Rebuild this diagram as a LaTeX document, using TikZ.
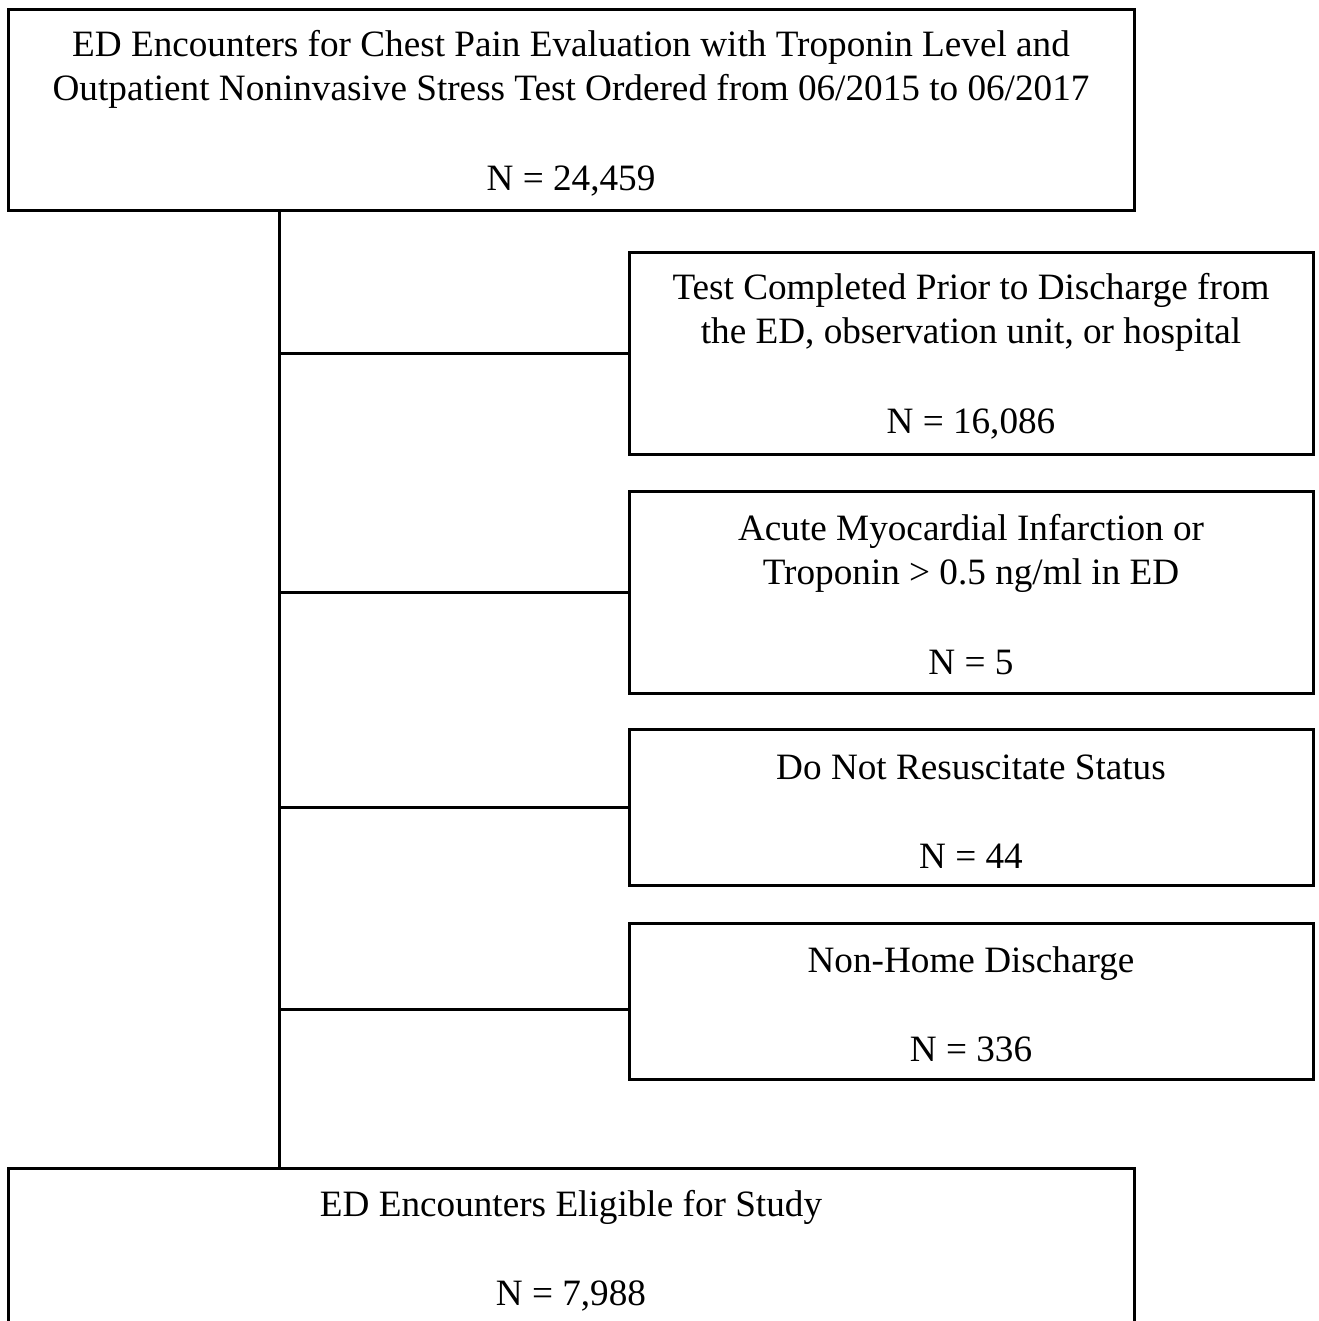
\documentclass[tikz,border=0pt]{standalone}
\usepackage{fontspec}
\setmainfont{Liberation Serif}
\newcommand{\firstline}{\rule{0pt}{16pt}}
\begin{document}
\begin{tikzpicture}[x=0.5pt,y=-0.5pt,
  box/.style={draw=black, line width=1.5pt, align=center, inner sep=0pt,
    font=\fontsize{18.6}{22}\selectfont},
  link/.style={line width=1.5pt, draw=black}]
\useasboundingbox (0,0) rectangle (1318,1321);
\clip (0,0) rectangle (1318,1321);
\node[box, minimum width=563pt, minimum height=100.5pt] (top) at (571,110.5)
  {\firstline ED Encounters for Chest Pain Evaluation with Troponin Level and\\Outpatient Noninvasive Stress Test Ordered from 06/2015 to 06/2017\\[23pt]N = 24,459};
\node[box, minimum width=342pt, minimum height=101pt] (b1) at (971,353)
  {\firstline Test Completed Prior to Discharge from\\the ED, observation unit, or hospital\\[23pt]N = 16,086};
\node[box, minimum width=342pt, minimum height=101pt] (b2) at (971,592)
  {\firstline Acute Myocardial Infarction or\\Troponin > 0.5 ng/ml in ED\\[23pt]N = 5};
\node[box, minimum width=342pt, minimum height=78pt] (b3) at (971,807.5)
  {\firstline Do Not Resuscitate Status\\[22.5pt]N = 44};
\node[box, minimum width=342pt, minimum height=78pt] (b4) at (971,1001)
  {\firstline Non-Home Discharge\\[22.5pt]N = 336};
\node[box, minimum width=563pt, minimum height=79.5pt, anchor=north] (bot) at (571,1167)
  {\firstline ED Encounters Eligible for Study\\[22.5pt]N = 7,988};
\coordinate (sp) at (279,0);
\coordinate (s1) at (279,353);
\coordinate (s2) at (279,592);
\coordinate (s3) at (279,807.5);
\coordinate (s4) at (279,1009);
\draw[link] (top.south -| sp) -- (bot.north -| sp);
\draw[link] (s1) -- (b1.west |- s1);
\draw[link] (s2) -- (b2.west |- s2);
\draw[link] (s3) -- (b3.west |- s3);
\draw[link] (s4) -- (b4.west |- s4);
\end{tikzpicture}
\end{document}
